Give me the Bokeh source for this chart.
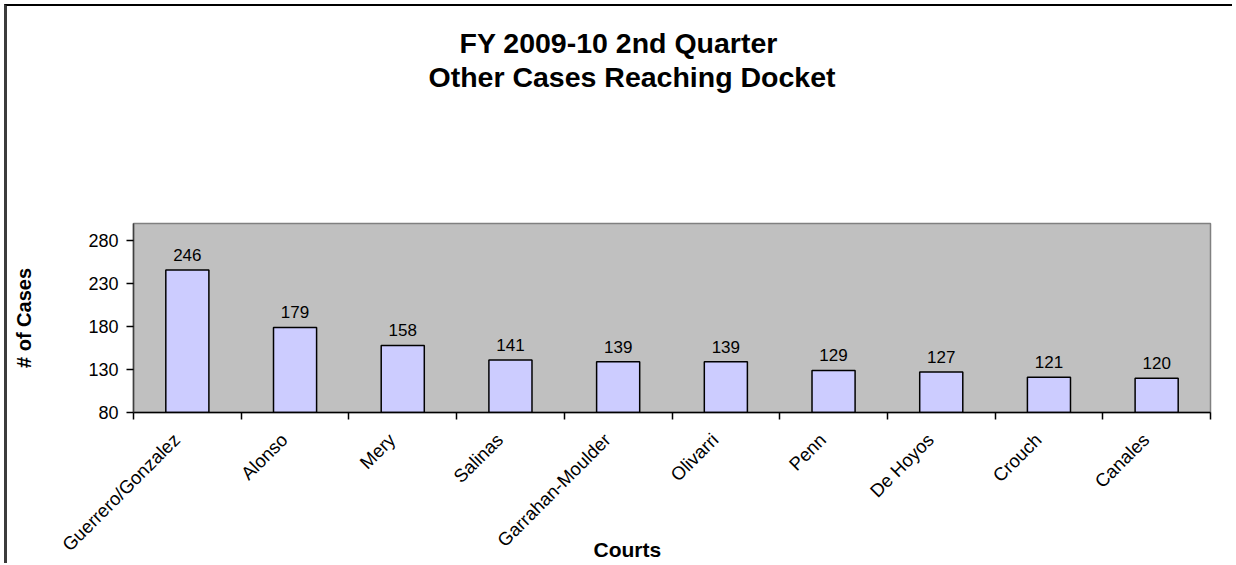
import math
from bokeh.plotting import figure
from bokeh.models import FixedTicker, Title, ColumnDataSource, InlineStyleSheet
from bokeh.core.properties import value
from bokeh.embed import file_html
from bokeh.resources import INLINE

courts = ["Guerrero/Gonzalez", "Alonso", "Mery", "Salinas", "Garrahan-Moulder",
          "Olivarri", "Penn", "De Hoyos", "Crouch", "Canales"]
cases = [246, 179, 158, 141, 139, 139, 129, 127, 121, 120]
y_ticks = [80, 130, 180, 230, 280]
title_lines = ["FY 2009-10 2nd Quarter", "Other Cases Reaching Docket"]

FONT = "Liberation Sans"
W, H = 1228, 559

centers = [i + 0.5 for i in range(len(courts))]
label_pos = [c - 0.1 for c in centers]   # slanted labels end a little left of each bar
src = ColumnDataSource(dict(x=centers, top=cases, label=[str(v) for v in cases]))

p = figure(width=W, height=H, x_range=(0, len(courts)), y_range=(80, 300),
           output_backend="svg", toolbar_location=None,
           min_border_left=126, min_border_right=25, min_border_top=217, min_border_bottom=152)
p.stylesheets = [InlineStyleSheet(css=":host { margin-left: 4px; margin-top: 4px; "
                                      "border-top: 2px solid #000000; border-left: 3px solid #3c3c3c; }")]

p.background_fill_color = "#C0C0C0"
p.border_fill_color = "white"
p.outline_line_color = "#808080"
p.outline_line_width = 1.5
p.xgrid.visible = False
p.ygrid.visible = False

p.vbar(x="x", top="top", bottom=80, width=0.4, source=src,
       fill_color="#CCCCFF", line_color="black", line_width=1.5)
p.text(x="x", y="top", text="label", source=src, y_offset=-15,
       text_align="center", text_baseline="alphabetic",
       text_font=value(FONT), text_font_size="17px", text_color="black")

# x axis: labels near centres, tick marks at category boundaries
xa = p.xaxis[0]
xa.ticker = FixedTicker(ticks=label_pos, minor_ticks=list(range(len(courts) + 1)))
xa.major_label_overrides = {c: n for c, n in zip(label_pos, courts)}
xa.major_tick_out = 0
xa.major_tick_in = 0
xa.minor_tick_out = 7
xa.minor_tick_in = 0
xa.minor_tick_line_color = "black"
xa.minor_tick_line_width = 1.5
xa.axis_line_color = "black"
xa.axis_line_width = 1.5
xa.major_label_orientation = math.pi / 4
xa.major_label_standoff = 17
xa.major_label_text_font = FONT
xa.major_label_text_font_size = "18.5px"
xa.major_label_text_color = "black"

ya = p.yaxis[0]
ya.ticker = FixedTicker(ticks=y_ticks)
ya.minor_tick_line_color = None
ya.major_tick_out = 7
ya.major_tick_in = 0
ya.major_tick_line_color = "black"
ya.major_tick_line_width = 1.5
ya.axis_line_color = "#404040"
ya.axis_line_width = 1.5
ya.major_label_standoff = 8
ya.major_label_text_font = FONT
ya.major_label_text_font_size = "18px"
ya.major_label_text_color = "black"
ya.axis_label = "# of Cases"
ya.axis_label_text_font = FONT
ya.axis_label_text_font_size = "20px"
ya.axis_label_text_font_style = "bold"
ya.axis_label_text_color = "black"
ya.axis_label_standoff = 50

# spacer nearest the frame, then the two title lines
p.add_layout(Title(text=" ", text_font=FONT, text_font_size="28.5px", standoff=97), "above")
p.add_layout(Title(text=title_lines[1], align="left", offset=295,
                   text_font=FONT, text_font_size="28.5px", text_font_style="bold",
                   text_color="black", standoff=0), "above")
p.add_layout(Title(text=title_lines[0], align="left", offset=326,
                   text_font=FONT, text_font_size="28.5px", text_font_style="bold",
                   text_color="black", standoff=0), "above")

p.add_layout(Title(text="Courts", align="left", offset=460, vertical_align="top",
                   text_font=FONT, text_font_size="21px", text_font_style="bold",
                   text_color="black", standoff=-56), "below")

open("out.html", "w").write(file_html(p, INLINE))
